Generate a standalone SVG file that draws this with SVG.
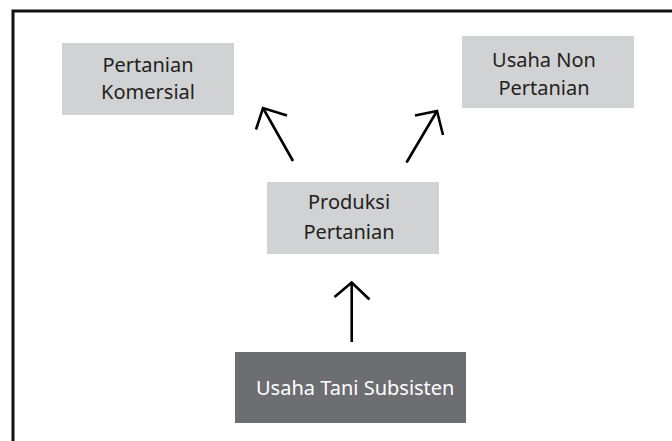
<svg xmlns="http://www.w3.org/2000/svg" width="672" height="441" viewBox="0 0 672 441">
<style>
.box{fill:#d1d2d4}
.dark{fill:#6d6e71}
.t{font-family:"Noto Sans","Open Sans",sans-serif;font-size:20px;fill:#231f20;text-anchor:middle}
.tw{fill:#ffffff;text-anchor:start}
.arr{fill:none;stroke:#000;stroke-width:2.6;stroke-linecap:butt;stroke-linejoin:miter}
</style>
<rect width="672" height="441" fill="#ffffff"/>
<path d="M13,442 V11 H673" fill="none" stroke="#111" stroke-width="3"/>
<g id="node-komersial">
<rect class="box" x="62" y="43" width="172" height="72"/>
<text class="t" x="148" y="72">Pertanian</text>
<text class="t" x="148" y="99">Komersial</text>
</g>
<g id="node-nonpertanian">
<rect class="box" x="462" y="36" width="172" height="72"/>
<text class="t" x="544" y="67">Usaha Non</text>
<text class="t" x="544" y="95">Pertanian</text>
</g>
<g id="node-produksi">
<rect class="box" x="267" y="182" width="172" height="72"/>
<text class="t" x="349" y="209">Produksi</text>
<text class="t" x="349" y="239">Pertanian</text>
</g>
<g id="node-subsisten">
<rect class="dark" x="235" y="352" width="231" height="71"/>
<text class="t tw" x="256" y="395">Usaha Tani Subsisten</text>
</g>
<g id="connectors">
<path class="arr" d="M293,161 L263,108"/>
<path class="arr" d="M287,115.5 L263,108 L256,129.5"/>
<path class="arr" d="M406.5,162.5 L437,111"/>
<path class="arr" d="M415,115.5 L437,111 L443,135"/>
<path class="arr" d="M351.7,342 V282.5"/>
<path class="arr" d="M334.5,297 L351.7,282.5 L369.5,299.5"/>
</g>
</svg>
